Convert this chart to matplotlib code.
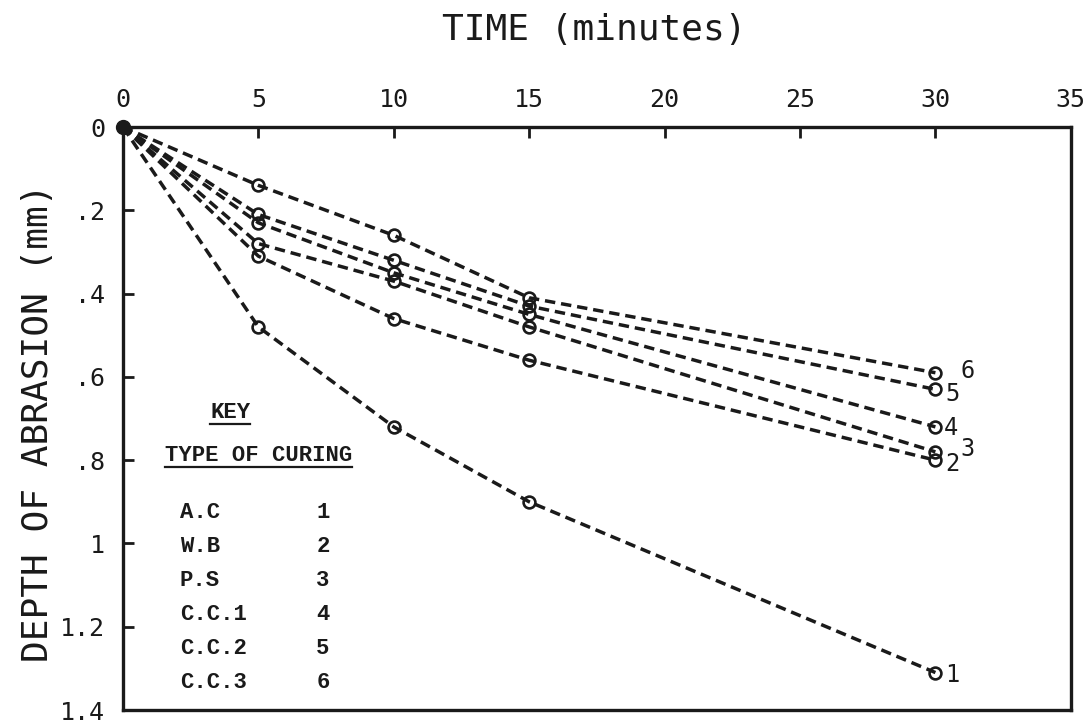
import matplotlib
matplotlib.use("Agg")
import matplotlib.pyplot as plt
from matplotlib.lines import Line2D

# Abrasion depth (mm) against time for six curing methods
time_min = [0, 5, 10, 15, 30]
depth_ac = [0, 0.48, 0.72, 0.90, 1.31]    # 1  A.C
depth_wb = [0, 0.31, 0.46, 0.56, 0.80]    # 2  W.B
depth_ps = [0, 0.28, 0.37, 0.48, 0.78]    # 3  P.S
depth_cc1 = [0, 0.23, 0.35, 0.45, 0.72]   # 4  C.C.1
depth_cc2 = [0, 0.21, 0.32, 0.43, 0.63]   # 5  C.C.2
depth_cc3 = [0, 0.14, 0.26, 0.41, 0.59]   # 6  C.C.3

curing_names = ["A.C", "W.B", "P.S", "C.C.1", "C.C.2", "C.C.3"]
curing_ids = ["1", "2", "3", "4", "5", "6"]
series = [depth_ac, depth_wb, depth_ps, depth_cc1, depth_cc2, depth_cc3]

x_ticks = [0, 5, 10, 15, 20, 25, 30, 35]
y_ticks = [0, 0.2, 0.4, 0.6, 0.8, 1.0, 1.2, 1.4]
y_tick_labels = ["0", ".2", ".4", ".6", ".8", "1", "1.2", "1.4"]

INK = "#1a1a1a"
PLOT_FONT = "DejaVu Sans Mono"
KEY_FONT = "Liberation Mono"

fig = plt.figure(figsize=(10.92, 7.26), dpi=100)
ax = fig.add_axes([0.1126, 0.022, 0.868, 0.803])

# end-label offsets (points) beside the 30-minute markers
label_offsets = {"1": (12, -2), "2": (12, -3), "3": (23, 2),
                 "4": (11, -1), "5": (12, -3), "6": (23, 1)}

for name_id, depth in zip(curing_ids, series):
    ax.plot(time_min, depth, color=INK, lw=2.5,
            linestyle=(0, (3.0, 1.7)),
            marker="o", markersize=8.5, markerfacecolor="none",
            markeredgecolor=INK, markeredgewidth=1.9, zorder=3)
    ax.annotate(name_id, xy=(time_min[-1], depth[-1]),
                xytext=label_offsets[name_id], textcoords="offset points",
                ha="center", va="center", fontsize=17, family=PLOT_FONT,
                color=INK)

# common starting point
ax.plot(time_min[0], series[0][0], "o", color=INK, markersize=10, zorder=4,
        clip_on=False)

ax.set_xlim(0, 35)
ax.set_ylim(1.4, 0)

ax.xaxis.tick_top()
ax.set_xticks(x_ticks)
ax.set_xticklabels([str(t) for t in x_ticks], family=PLOT_FONT, fontsize=18,
                   color=INK)
ax.set_yticks(y_ticks)
ax.set_yticklabels(y_tick_labels, family=PLOT_FONT, fontsize=18, color=INK)
ax.tick_params(axis="x", direction="in", length=8, width=2, pad=11,
               top=True, bottom=False, colors=INK)
ax.tick_params(axis="y", direction="in", length=8, width=2, pad=13,
               left=True, right=False, colors=INK)
for sp in ax.spines.values():
    sp.set_linewidth(2.4)
    sp.set_color(INK)

fig.text(594 / 1092, 1 - 30 / 726, "TIME (minutes)", ha="center",
         va="center", family=PLOT_FONT, fontsize=26, color=INK)
fig.text(38 / 1092, 1 - 423 / 726, "DEPTH OF ABRASION (mm)", ha="center",
         va="center", rotation=90, family=PLOT_FONT, fontsize=26, color=INK)

# key box text
key_title = ax.text(0.113, 0.511, "KEY", transform=ax.transAxes, ha="center",
                    va="center", family=KEY_FONT, fontsize=16, color=INK,
                    weight="bold")
key_sub = ax.text(0.0443, 0.437, "TYPE OF CURING", transform=ax.transAxes,
                  ha="left", va="center", family=KEY_FONT, fontsize=16,
                  color=INK, weight="bold")
for i, (nm, cid) in enumerate(zip(curing_names, curing_ids)):
    yy = 0.338 - i * 0.058
    ax.text(0.060, yy, nm, transform=ax.transAxes, ha="left", va="center",
            family=KEY_FONT, fontsize=16, color=INK, weight="bold")
    ax.text(0.211, yy, cid, transform=ax.transAxes, ha="center", va="center",
            family=KEY_FONT, fontsize=16, color=INK, weight="bold")

# underline the key headings
fig.canvas.draw()
renderer = fig.canvas.get_renderer()
for t in (key_title, key_sub):
    bb = t.get_window_extent(renderer)
    y_line = bb.y0 - 1
    fig.add_artist(Line2D([bb.x0, bb.x1], [y_line, y_line], color=INK,
                          lw=1.6, transform=None))

fig.savefig("out.png", dpi=100, facecolor="white")
